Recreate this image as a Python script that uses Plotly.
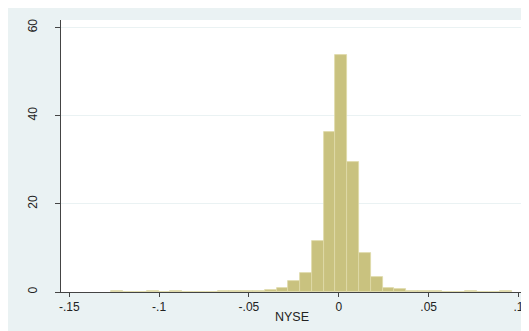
import plotly.graph_objects as go

# Histogram data (density), Stata-style bins
bin_start = -0.1265
bin_width = 0.00656
density = [0.12, 0, 0, 0.12, 0, 0.12, 0, 0, 0.06, 0.12,
           0.12, 0.18, 0.3, 0.45, 0.95, 2.5, 4.3, 11.5, 36.2, 53.7,
           29.6, 8.8, 3.3, 0.8, 0.6, 0.12, 0.18, 0.12, 0.06, 0,
           0.12, 0, 0, 0.12]

x_tickvals = [-0.15, -0.1, -0.05, 0, 0.05, 0.1]
x_ticktext = ["-.15", "-.1", "-.05", "0", ".05", ".1"]
y_tickvals = [0, 20, 40, 60]
y_ticktext = ["0", "20", "40", "60"]
x_title = "NYSE"

centers = [bin_start + (i + 0.5) * bin_width for i in range(len(density))]

W, H = 529, 331
ml, mr, mt, mb = 53, 0, 12, 47

BG = "#eaf2f3"
FONT = "Liberation Sans, Arial, sans-serif"

fig = go.Figure()
fig.add_trace(go.Bar(
    x=centers, y=density, width=[bin_width] * len(density),
    marker=dict(color="#c9c27f", line=dict(color="#dedaa8", width=0.8)),
    showlegend=False,
))

fig.add_annotation(
    text=x_title, xref="paper", yref="paper", x=0.485, y=0,
    xanchor="center", yanchor="middle", yshift=-25, showarrow=False,
    font=dict(size=12.5, color="#222"),
)

fig.update_layout(
    width=W, height=H,
    margin=dict(l=ml, r=mr, t=mt, b=mb, pad=0),
    paper_bgcolor=BG, plot_bgcolor="white",
    font=dict(family=FONT, size=12, color="#222"),
    bargap=0,
    xaxis=dict(
        range=[-0.1546, 0.1103], tickvals=x_tickvals, ticktext=x_ticktext,
        showgrid=False, zeroline=False, showline=True, linecolor="#444", linewidth=1,
        ticks="outside", ticklen=4, tickcolor="#444",
        tickfont=dict(size=12),
    ),
    yaxis=dict(
        range=[0, 61.7], tickvals=y_tickvals, ticktext=y_ticktext,
        showgrid=True, gridcolor=BG, gridwidth=1, zeroline=False,
        showline=True, linecolor="#444", linewidth=1,
        ticks="outside", ticklen=5, tickcolor="#444", tickangle=-90,
        ticklabelstandoff=13,
        tickfont=dict(size=12),
    ),
)

fig.write_html("out.html")
